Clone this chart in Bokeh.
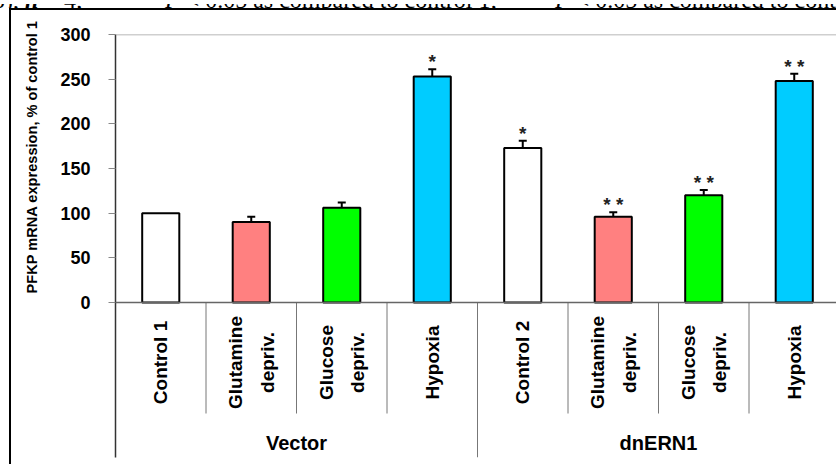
import math
from bokeh.plotting import figure
from bokeh.layouts import column
from bokeh.models import (Range1d, FixedTicker, Whisker, TeeHead, ColumnDataSource,
                          Span, Title, Div)
from bokeh.core.properties import value
from bokeh.embed import file_html
from bokeh.resources import INLINE

# ---------------- data ----------------
groups = ["Vector", "dnERN1"]
group_of = ["Vector", "Vector", "Vector", "Vector", "dnERN1", "dnERN1", "dnERN1", "dnERN1"]
conditions = ["Control 1", "Glutamine\ndepriv.", "Glucose\ndepriv.", "Hypoxia",
              "Control 2", "Glutamine\ndepriv.", "Glucose\ndepriv.", "Hypoxia"]
values = [100, 90, 106, 253, 173, 96, 120, 248]
errors = [0, 6, 6, 8, 8, 5, 6, 8]
stars = ["", "", "", "*", "*", "* *", "* *", "* *"]
bar_colors = ["#FFFFFF", "#FF8080", "#00FF00", "#00CCFF",
              "#FFFFFF", "#FF8080", "#00FF00", "#00CCFF"]
y_ticks = [0, 50, 100, 150, 200, 250, 300]
y_label = "PFKP mRNA expression, % of control 1"
caption_n = "b), <b><i>n</i></b> = 4;"
caption_1 = ("*", "<i>P</i> &lt; 0.05 as compared to control 1;")
caption_2 = ("**", "<i>P</i> &lt; 0.05 as compared to control 2")

# ---------------- layout (page pixels) ----------------
PAGE_W, PAGE_H = 836, 464
CAPTION_H = 8
OFF_X, OFF_Y = 0, CAPTION_H                      # canvas origin on the page
W, H = PAGE_W - OFF_X, PAGE_H - OFF_Y
FRAME_LEFT, FRAME_TOP, FRAME_BOTTOM = 115, 34, 457
ZERO_PX = 302
CAT_W = 90.5
S = (ZERO_PX - FRAME_TOP) / y_ticks[-1]          # px per data unit
Y_MIN = -(FRAME_BOTTOM - ZERO_PX) / S
X_MAX = (PAGE_W - FRAME_LEFT) / CAT_W


def dy(px_y):
    """page y pixel -> data y"""
    return (ZERO_PX - px_y) / S


FONT = "Liberation Sans"

# ---------------- cropped caption strip at the very top ----------------
span_style = "position:absolute;top:-16px;"
cap_html = (
    '<div style="position:relative;width:%dpx;height:%dpx;overflow:hidden;'
    'font-family:\'Liberation Serif\';font-size:24px;line-height:24px;color:black;'
    'white-space:nowrap;">' % (PAGE_W, CAPTION_H)
    + '<span style="%sleft:-7px;">%s</span>' % (span_style, caption_n)
    + '<span style="%sleft:148px;"><sup>%s</sup></span>' % (span_style, caption_1[0])
    + '<span style="%sleft:165px;">%s</span>' % (span_style, caption_1[1])
    + '<span style="%sleft:532px;"><sup>%s</sup></span>' % (span_style, caption_2[0])
    + '<span style="%sleft:555px;">%s</span>' % (span_style, caption_2[1])
    + '</div>')
cap = Div(text=cap_html, width=PAGE_W, height=CAPTION_H, margin=(0, 0, 0, 0))

# outer chart border (left and top edges) painted behind a transparent canvas
border_css = ("linear-gradient(#000,#000) 9px 0 / 2px 100% no-repeat, "
              "linear-gradient(#000,#000) 9px 0 / 100% 2px no-repeat, #ffffff")

p = figure(width=W, height=H, output_backend="svg", toolbar_location=None,
           x_range=Range1d(0, X_MAX), y_range=Range1d(Y_MIN, y_ticks[-1]),
           x_axis_location=None, min_border_left=FRAME_LEFT - OFF_X,
           min_border_top=FRAME_TOP - OFF_Y, min_border_bottom=PAGE_H - FRAME_BOTTOM,
           min_border_right=0, margin=(0, 0, 0, 0),
           styles={"background": border_css})
p.outline_line_color = None
p.xgrid.visible = False
p.ygrid.visible = False
p.background_fill_color = "white"
p.border_fill_color = None

ax = p.yaxis[0]
ax.ticker = FixedTicker(ticks=y_ticks)
ax.minor_tick_line_color = None
ax.major_tick_out = 7
ax.major_tick_in = 0
ax.major_tick_line_color = "#888888"
ax.axis_line_color = "#333333"
ax.axis_line_width = 1.5
ax.major_label_standoff = 18
ax.major_label_text_font = FONT
ax.major_label_text_font_style = "bold"
ax.major_label_text_font_size = "18px"
ax.major_label_text_color = "black"

# y axis title, placed along the 0-300 part of the axis
p.add_layout(Title(text=y_label, align="left", offset=FRAME_BOTTOM - 293, standoff=36,
                   text_font=FONT, text_font_style="bold", text_font_size="14.6px",
                   text_color="black"), "left")

n = len(values)
xc = [i + 0.5 for i in range(n)]

# plot-area top border and x axis line
p.add_layout(Span(location=y_ticks[-1], dimension="width", line_color="#A0A0A0", line_width=1.5))
p.add_layout(Span(location=0, dimension="width", line_color="#666666", line_width=1.5))

# category separators
inner_x = [i for i in range(1, n) if group_of[i] == group_of[i - 1]]
group_x = [i for i in range(1, n) if group_of[i] != group_of[i - 1]]
p.segment(x0=inner_x, y0=[0] * len(inner_x), x1=inner_x, y1=[dy(413)] * len(inner_x),
          line_color="#777777", line_width=1)
p.segment(x0=group_x, y0=[0] * len(group_x), x1=group_x, y1=[Y_MIN] * len(group_x),
          line_color="#777777", line_width=1)

# bars
src = ColumnDataSource(dict(x=xc, top=values, color=bar_colors))
p.vbar(x="x", top="top", width=0.41, bottom=0, source=src, fill_color="color",
       line_color="black", line_width=2)

# error bars
ex = [xc[i] for i in range(n) if errors[i] > 0]
eu = [values[i] + errors[i] for i in range(n) if errors[i] > 0]
el = [values[i] - errors[i] for i in range(n) if errors[i] > 0]
esrc = ColumnDataSource(dict(x=ex, upper=eu, lower=el))
p.add_layout(Whisker(source=esrc, base="x", upper="upper", lower="lower",
                     line_color="black", line_width=2,
                     upper_head=TeeHead(size=8, line_color="black", line_width=2),
                     lower_head=TeeHead(size=8, line_color="black", line_width=2)))

# significance stars
p.text(x=xc, y=[values[i] + errors[i] + 7.5 / S for i in range(n)], text=stars,
       text_align="center", text_baseline="middle", text_font=value(FONT),
       text_font_style="bold", text_font_size="19px", text_color="#222222")

# category labels (rotated)
p.text(x=xc, y=[dy(362)] * n, text=conditions, angle=math.pi / 2,
       text_align="center", text_baseline="middle", text_font=value(FONT),
       text_font_style="bold", text_font_size="19px", text_line_height=1.5,
       text_color="black")

# group labels
gx = [sum(xc[i] for i in range(n) if group_of[i] == g) / group_of.count(g) for g in groups]
p.text(x=gx, y=[dy(442)] * len(groups), text=groups, text_align="center",
       text_baseline="middle", text_font=value(FONT), text_font_style="bold",
       text_font_size="20px", text_color="black")

layout = column(cap, p, spacing=0)
open("out.html", "w").write(file_html(layout, INLINE))
